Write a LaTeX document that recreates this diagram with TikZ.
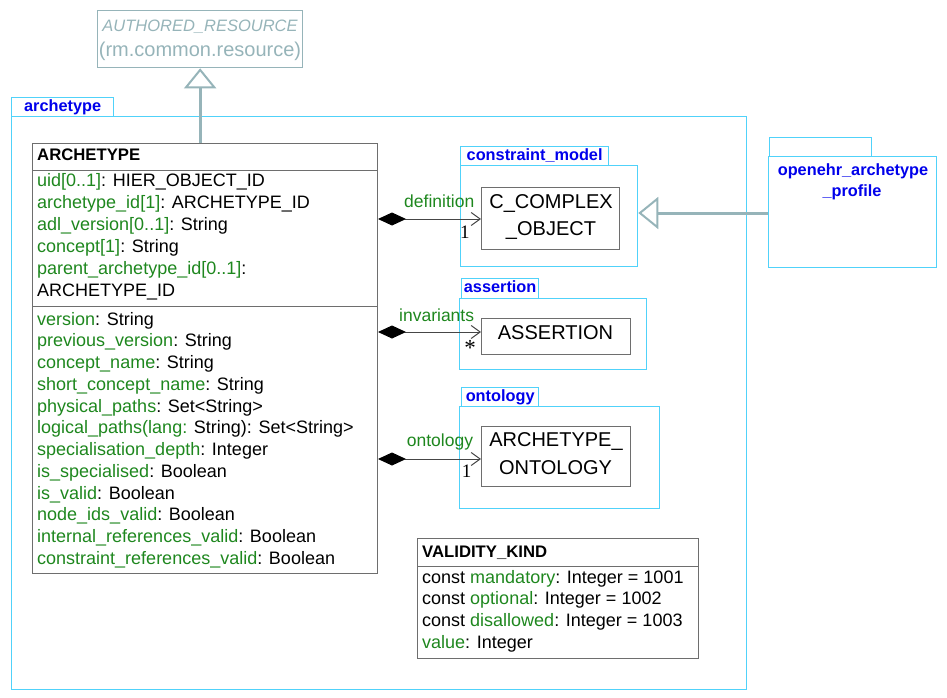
\documentclass[tikz,border=0pt]{standalone}
\usepackage{fontspec}
\setmainfont{Liberation Sans}
\newfontfamily\serifm{Liberation Serif}
\usetikzlibrary{arrows.meta}
\definecolor{grn}{RGB}{30,135,30}
\definecolor{pkgc}{RGB}{80,210,250}
\definecolor{pkgt}{RGB}{0,0,235}
\definecolor{inhc}{RGB}{150,180,185}
\definecolor{clsc}{RGB}{110,110,110}
\definecolor{asc}{RGB}{70,70,70}
\newcommand\gr[1]{\textcolor{grn}{#1}}
\begin{document}
\begin{tikzpicture}[x=1pt,y=-1pt,
 pkg/.style={draw=pkgc, line width=1.3pt, inner sep=0, anchor=north west},
 pkgtab/.style={draw=pkgc, line width=1.3pt, inner sep=0, anchor=north west, text=pkgt,
   font=\fontsize{16.3}{19}\selectfont\bfseries, text height=11.7, text depth=3.4},
 pkglbl/.style={text=pkgt, font=\fontsize{16.3}{19}\selectfont\bfseries, inner sep=0, anchor=base},
 cls/.style={draw=clsc, line width=1pt, inner sep=0, anchor=north west},
 attr/.style={anchor=base west, inner sep=0, font=\fontsize{18}{22}\selectfont},
 ctitle/.style={anchor=base west, inner sep=0, font=\fontsize{16.7}{20}\selectfont\bfseries},
 cname/.style={anchor=base, inner sep=0, font=\fontsize{20}{27}\selectfont},
 assoc/.style={draw=asc, line width=1pt,
   {Diamond[length=28pt,width=13pt,color=black]}-{Straight Barb[length=9pt,width=13pt]}},
 role/.style={text=grn, anchor=base west, inner sep=0, font=\fontsize{17.5}{20}\selectfont},
 mult/.style={inner sep=0, font=\serifm\fontsize{19}{22}\selectfont},
 inh/.style={draw=inhc, line width=3pt, -{Triangle[open, length=20pt, width=32pt, line width=2pt]}},
]
\useasboundingbox (0,0) rectangle (947,698);

% AUTHORED_RESOURCE
\node[draw=inhc, line width=1.3pt, inner sep=0, anchor=north west, minimum width=205, minimum height=57] (ar) at (97,10) {};
\node[anchor=base, inner sep=0, text=inhc, font=\fontsize{16.5}{20}\selectfont\itshape] (arname) at (200,32) {AUTHORED\_RESOURCE};
\node[anchor=base, inner sep=0, text=inhc, font=\fontsize{20}{24}\selectfont] (arpkg) at (200,57) {(rm.common.resource)};

% archetype package
\node[pkgtab, minimum width=102, minimum height=19] (archtab) at (11,97) {archetype};
\node[pkg, minimum width=735, minimum height=573] (archpkg) at (11,116) {};

% constraint_model package
\node[pkgtab, minimum width=148, minimum height=19] (cmtab) at (460,146) {constraint\_model};
\node[pkg, minimum width=177, minimum height=101] (cmpkg) at (460,165) {};

% assertion package
\node[pkgtab, minimum width=77, minimum height=20] (astab) at (461,278) {assertion};
\node[pkg, minimum width=187, minimum height=71] (aspkg) at (459,298) {};

% ontology package
\node[pkgtab, minimum width=77, minimum height=19] (ontab) at (461,387) {ontology};
\node[pkg, minimum width=200, minimum height=102] (onpkg) at (459,406) {};

% openehr_archetype_profile package
\node[pkg, minimum width=102, minimum height=19] (proftab) at (769,137) {};
\node[pkg, minimum width=168, minimum height=111] (prof) at (768,156) {};
\node[pkglbl] (proflbl1) at (853,175) {openehr\_archetype};
\node[pkglbl] (proflbl2) at (852,196) {\_profile};

% ARCHETYPE class
\node[cls, minimum width=345, minimum height=430] (arch) at (32,143) {};
\draw[draw=clsc, line width=1pt] (arch.west |- 0,170) -- (arch.east |- 0,170);
\draw[draw=clsc, line width=1pt] (arch.west |- 0,306) -- (arch.east |- 0,306);
\node[ctitle] (archname) at (37,160) {ARCHETYPE};
\node[attr] (a1) at (37,186) {\gr{uid[0..1]}: HIER\_OBJECT\_ID};
\node[attr] (a2) at (37,208) {\gr{archetype\_id[1]}: ARCHETYPE\_ID};
\node[attr] (a3) at (37,230) {\gr{adl\_version[0..1]}: String};
\node[attr] (a4) at (37,252) {\gr{concept[1]}: String};
\node[attr] (a5) at (37,274) {\gr{parent\_archetype\_id[0..1]}:};
\node[attr] (a6) at (37,296) {ARCHETYPE\_ID};
\foreach \t [count=\i] in {
  \gr{version}: String,
  \gr{previous\_version}: String,
  \gr{concept\_name}: String,
  \gr{short\_concept\_name}: String,
  \gr{physical\_paths}: Set<String>,
  \gr{logical\_paths(lang:} String): Set<String>,
  \gr{specialisation\_depth}: Integer,
  \gr{is\_specialised}: Boolean,
  \gr{is\_valid}: Boolean,
  \gr{node\_ids\_valid}: Boolean,
  \gr{internal\_references\_valid}: Boolean,
  \gr{constraint\_references\_valid}: Boolean}
  \node[attr] (b\i) at (37,{325+21.75*(\i-1)}) {\t};

% C_COMPLEX_OBJECT
\node[cls, minimum width=138, minimum height=62] (cco) at (481,187) {};
\node[cname] (cco1) at (551,208) {C\_COMPLEX};
\node[cname] (cco2) at (551,235) {\_OBJECT};

% ASSERTION
\node[cls, minimum width=149, minimum height=36] (asr) at (481,318) {};
\node[cname] (asr1) at (555.5,339) {ASSERTION};

% ARCHETYPE_ONTOLOGY
\node[cls, minimum width=149, minimum height=60] (aon) at (481,426) {};
\node[cname] (aon1) at (556,446.7) {ARCHETYPE\_};
\node[cname] (aon2) at (555.5,474) {ONTOLOGY};

% VALIDITY_KIND
\node[cls, minimum width=281, minimum height=120] (vk) at (417,538) {};
\draw[draw=clsc, line width=1pt] (vk.west |- 0,566) -- (vk.east |- 0,566);
\node[ctitle] (vkname) at (422,557) {VALIDITY\_KIND};
\node[attr] (v1) at (422,583) {const \gr{mandatory}: Integer = 1001};
\node[attr] (v2) at (422,604.7) {const \gr{optional}: Integer = 1002};
\node[attr] (v3) at (422,626.3) {const \gr{disallowed}: Integer = 1003};
\node[attr] (v4) at (422,648) {\gr{value}: Integer};

% inheritance
\draw[inh] (arch.north -| ar.south) -- (ar.south);
\draw[inh] (prof.west |- 0,213) -- (cmpkg.east |- 0,213);

% associations
\draw[assoc] (arch.east |- 0,219) -- (cco.west |- 0,219);
\node[role] (r1) at (404,207) {definition};
\node[mult, anchor=base west] (m1) at (460,238) {1};

\draw[assoc] (arch.east |- 0,332) -- (asr.west |- 0,332);
\node[role] (r2) at (399,321.7) {invariants};
\node[mult, font=\serifm\fontsize{23}{26}\selectfont] (m2) at (470,348) {*};

\draw[assoc] (arch.east |- 0,459) -- (aon.west |- 0,459);
\node[role] (r3) at (406.7,446.7) {ontology};
\node[mult, anchor=base west] (m3) at (461.7,477) {1};
\end{tikzpicture}
\end{document}
